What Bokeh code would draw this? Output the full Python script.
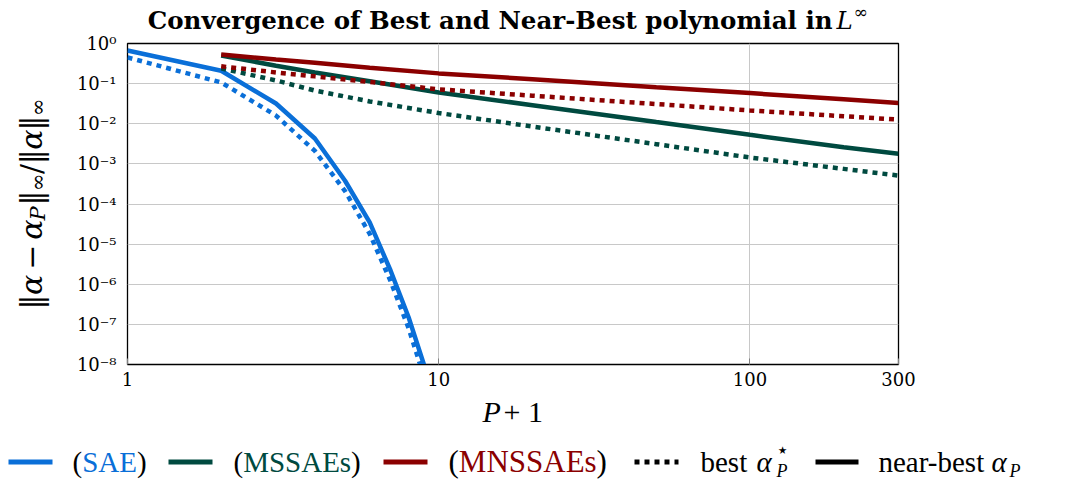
import math
from bokeh.plotting import figure
from bokeh.layouts import column, row
from bokeh.models import FixedTicker, CustomJSTickFormatter, Grid
from bokeh.core.properties import value
from bokeh.embed import file_html
from bokeh.resources import INLINE

# ---------------- data ----------------
sae_p = [1, 2, 3, 4, 5, 6, 7, 8, 9]
sae_near = [0.67, 0.21, 0.032, 0.0043, 3.8e-4, 3.5e-5, 2.2e-6, 1.5e-7, 9e-9]
sae_best = [0.45, 0.107, 0.016, 0.0021, 2.1e-4, 1.8e-5, 1.2e-6, 8e-8, 4.5e-9]

multi_p = [2, 3, 4, 6, 10, 20, 50, 100, 200, 300]
mssae_near = [0.50, 0.28, 0.19, 0.115, 0.060, 0.029, 0.011, 5.3e-3, 2.6e-3, 1.78e-3]
mssae_best = [0.24, 0.12, 0.067, 0.036, 0.0185, 8.5e-3, 3.1e-3, 1.44e-3, 7.5e-4, 5.1e-4]
mnssae_near = [0.53, 0.40, 0.33, 0.25, 0.18, 0.129, 0.081, 0.058, 0.041, 0.033]
mnssae_best = [0.27, 0.19, 0.152, 0.11, 0.072, 0.050, 0.031, 0.0214, 0.0154, 0.0127]

x_ticks = [1, 10, 100, 300]
y_ticks = [1e-8, 1e-7, 1e-6, 1e-5, 1e-4, 1e-3, 1e-2, 1e-1, 1.0]

title_main = "Convergence of Best and Near-Best polynomial in"
x_label = ("P", "+ 1")
series_names = ["SAE", "MSSAEs", "MNSSAEs"]

BLUE = "#0a6fd8"
GREEN = "#004a40"
RED = "#8b0000"

W, H = 1071, 480
LEG_H = 85
TOP_H = H - LEG_H          # height of the upper block
TITLE_H = 36
YLAB_W = 60
AX_X1 = 118                # right edge of the y tick-label strip
AX_W = AX_X1 - YLAB_W
RIGHT_W = W - AX_X1
FL, FR, FT, FB = 127, 898, 43, 364   # frame edges (page pixels)
SERIF = "DejaVu Serif"
TIMES = "Liberation Serif"
SHIFT = 0.3  # baseline correction (fraction of font size)

# approximate advance widths of Liberation Serif (em)
TW = {"(": 0.333, ")": 0.333, "S": 0.556, "A": 0.722, "E": 0.611,
      "M": 0.889, "N": 0.722, "s": 0.389}


def canvas(w, h, xr, yr, borders=(0, 0, 0, 0)):
    bl, br, bt, bb = borders
    f = figure(width=w, height=h, x_range=xr, y_range=yr,
               min_border_left=bl, min_border_right=br, min_border_top=bt,
               min_border_bottom=bb,
               toolbar_location=None, output_backend="svg", title_location=None,
               x_axis_location=None, y_axis_location=None)
    f.xgrid.grid_line_color = None
    f.ygrid.grid_line_color = None
    f.outline_line_color = None
    f.background_fill_color = "white"
    f.border_fill_color = "white"
    return f


def put(f, x, y, s, size, color="black", style="normal", font=SERIF,
        align="left", baseline="alphabetic", angle=0.0):
    f.text(x=[x], y=[y], text=[s], text_font=value(font), text_font_size=f"{size}px",
           text_color=color, text_font_style=style, text_align=align,
           text_baseline=baseline, angle=angle)


xt = FixedTicker(ticks=x_ticks)
yt = FixedTicker(ticks=y_ticks)
yfmt = CustomJSTickFormatter(code="""
const sup = {"-":"\u207b","0":"\u2070","1":"\u00b9","2":"\u00b2","3":"\u00b3","4":"\u2074",
             "5":"\u2075","6":"\u2076","7":"\u2077","8":"\u2078","9":"\u2079"};
const e = Math.round(Math.log10(tick));
let s = "";
for (const c of String(e)) { s += sup[c]; }
return "10" + s;
""")

# ---------------- title (frame aligned with the plot frame: x data = page px) ----------------
tf = canvas(RIGHT_W, TITLE_H, (FL, FR), (0, TITLE_H),
            borders=(FL - AX_X1, W - FR, 0, 0))


def ty(abs_y, size):
    return TITLE_H - abs_y + SHIFT * size


TS = 24.5
put(tf, 832, ty(27, TS), title_main, TS, style="bold", font=SERIF, align="right")
put(tf, 836, ty(27, TS), "L", TS, style="italic", font=SERIF)
put(tf, 853, ty(16.5, 17), "\u221e", 17, font=SERIF)

# ---------------- y tick-label strip (shares the plot's y scale) ----------------
af = figure(width=AX_W, height=TOP_H, y_axis_type="log", y_range=(1e-8, 1), x_range=(0, 1),
            min_border_left=AX_W - 1, min_border_right=0, min_border_top=FT,
            min_border_bottom=TOP_H - FB, toolbar_location=None, output_backend="svg",
            title_location=None, x_axis_location=None, y_axis_location="left")
af.outline_line_color = None
af.xgrid.grid_line_color = None
af.ygrid.grid_line_color = None
af.border_fill_color = "white"
af.background_fill_color = "white"
af.yaxis.ticker = yt
af.yaxis.formatter = yfmt
af.yaxis.major_label_text_font = SERIF
af.yaxis.major_label_text_font_size = "18px"
af.yaxis.major_label_text_color = "black"
af.yaxis.major_label_standoff = 1
af.yaxis.major_tick_in = 0
af.yaxis.major_tick_out = 0
af.yaxis.minor_tick_line_color = None
af.yaxis.major_tick_line_color = None
af.yaxis.axis_line_color = None

# ---------------- main plot ----------------
p = figure(width=RIGHT_W, height=TOP_H - TITLE_H, x_axis_type="log", y_axis_type="log",
           x_range=(1, 300), y_range=(1e-8, 1),
           min_border_left=FL - AX_X1, min_border_right=W - FR,
           min_border_top=FT - TITLE_H, min_border_bottom=TOP_H - FB,
           toolbar_location=None, output_backend="svg", title_location=None,
           y_axis_location=None)
p.background_fill_color = "white"
p.border_fill_color = "white"
p.outline_line_color = "black"
p.outline_line_width = 1.3

p.xaxis.ticker = xt
p.xgrid.ticker = xt
if len(p.ygrid) > 0:
    p.ygrid.ticker = yt
    p.ygrid.grid_line_color = "#c8c8c8"
else:
    p.add_layout(Grid(dimension=1, ticker=yt, grid_line_color="#c8c8c8"), "center")
p.xaxis.formatter = CustomJSTickFormatter(code="return String(Math.round(tick));")
p.xaxis.major_label_text_font = SERIF
p.xaxis.major_label_text_font_size = "18px"
p.xaxis.major_label_text_color = "black"
p.xaxis.major_tick_in = 6
p.xaxis.major_tick_out = 0
p.xaxis.major_tick_line_color = "#808080"
p.xaxis.minor_tick_line_color = None
p.xaxis.axis_line_color = "black"
p.xaxis.major_label_standoff = 7
p.xgrid.grid_line_color = "#c8c8c8"

LW = 4.5
DOT = "5 5"
p.line(sae_p, sae_best, line_color=BLUE, line_width=LW, line_dash=DOT)
p.line(sae_p, sae_near, line_color=BLUE, line_width=LW)
p.line(multi_p, mssae_best, line_color=GREEN, line_width=LW, line_dash=DOT)
p.line(multi_p, mssae_near, line_color=GREEN, line_width=LW)
p.line(multi_p, mnssae_best, line_color=RED, line_width=LW, line_dash=DOT)
p.line(multi_p, mnssae_near, line_color=RED, line_width=LW)

# ---------------- y label (frame = plot frame rows: y data = FB - page px) ----------------
yf = canvas(YLAB_W, TOP_H, (0, YLAB_W), (0, FB - FT),
            borders=(0, 0, FT, TOP_H - FB))
YS = 30
SUB = 21
STRETCH = 0.97
pieces = [
    ("\u2016", YS, "normal", False, 0.50),
    ("\u03b1", YS, "italic", False, 0.66),
    ("\u2009\u2212\u2009", YS, "normal", False, 1.24),
    ("\u03b1", YS, "italic", False, 0.66),
    ("P", SUB, "italic", True, 0.733),
    ("\u2016", YS, "normal", False, 0.50),
    ("\u221e", SUB, "normal", True, 0.833),
    ("/", YS, "normal", False, 0.337),
    ("\u2016", YS, "normal", False, 0.50),
    ("\u03b1", YS, "italic", False, 0.66),
    ("\u2016", YS, "normal", False, 0.50),
    ("\u221e", SUB, "normal", True, 0.833),
]
ypos = FB - 309
for s, size, style, sub, wem in pieces:
    xb = 37 if sub else 31
    put(yf, xb, ypos, s, size, style=style, angle=math.pi / 2)
    ypos += wem * size * STRETCH

# ---------------- x label + legend ----------------
lf = canvas(W, LEG_H, (0, W), (0, LEG_H))


def ly_(abs_y, size=0):
    return H - abs_y + SHIFT * size


XL = 30
put(lf, 482, ly_(420, XL), x_label[0], XL, style="italic", font=TIMES)
put(lf, 503, ly_(420, XL), x_label[1], XL, font=TIMES)

FS = 29
sample_x = [(8, 52), (168, 212), (383, 427), (634, 678), (815, 858)]
sample_col = [BLUE, GREEN, RED, "black", "black"]
sample_dash = ["solid", "solid", "solid", DOT, "solid"]
for (x0, x1), c, d in zip(sample_x, sample_col, sample_dash):
    lf.line([x0, x1], [ly_(461.5), ly_(461.5)], line_color=c, line_width=5, line_dash=d)

starts = [72, 233, 448]
sizes = [FS, FS, 31]
for a, name, c, fs in zip(starts, series_names, [BLUE, GREEN, RED], sizes):
    wp = TW["("] * fs
    wn = sum(TW[ch] for ch in name) * fs
    put(lf, a, ly_(470, fs), "(", fs, font=TIMES)
    put(lf, a + wp, ly_(470, fs), name, fs, color=c, font=TIMES)
    put(lf, a + wp + wn, ly_(470, fs), ")", fs, font=TIMES)

put(lf, 700, ly_(470, FS), "best", FS, font=TIMES)
put(lf, 756, ly_(470, FS), "\u03b1", FS, style="italic", font=TIMES)
put(lf, 775, ly_(456, 21), "\u22c6", 21, font=SERIF)
put(lf, 776, ly_(476, 18), "P", 18, style="italic", font=TIMES)
put(lf, 878, ly_(470, FS), "near-best", FS, font=TIMES)
put(lf, 991, ly_(470, FS), "\u03b1", FS, style="italic", font=TIMES)
put(lf, 1009, ly_(476, 18), "P", 18, style="italic", font=TIMES)

layout = column(row(yf, af, column(tf, p)), lf)
open("out.html", "w").write(file_html(layout, INLINE))
